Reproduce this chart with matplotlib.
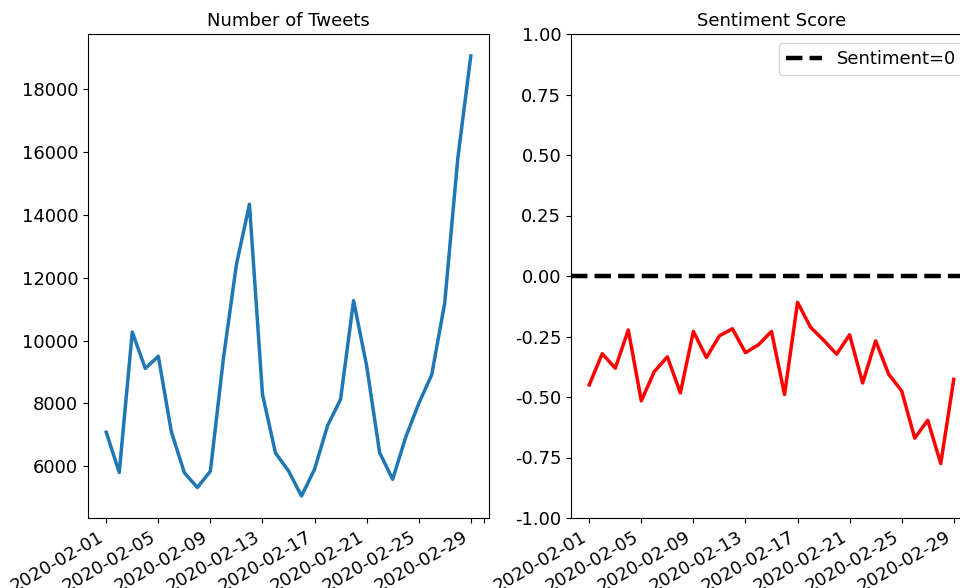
import pandas as pd
import matplotlib
matplotlib.use('Agg')
import matplotlib.pyplot as plt
import matplotlib.dates as mdates
import matplotlib.ticker as mticker

dates = pd.date_range('2020-02-01', '2020-02-29', freq='D')

tweet_counts = [7080, 5800, 10270, 9110, 9500, 7100, 5790, 5320, 5840, 9430,
                12420, 14340, 8290, 6420, 5850, 5050, 5900, 7290, 8130, 11270,
                9200, 6430, 5580, 6920, 7990, 8910, 11200, 15790, 19060]

sentiment = [-0.450, -0.321, -0.381, -0.223, -0.516, -0.395, -0.334, -0.483, -0.229, -0.337,
             -0.247, -0.218, -0.317, -0.284, -0.229, -0.490, -0.109, -0.212, -0.265, -0.323,
             -0.243, -0.442, -0.268, -0.406, -0.475, -0.670, -0.596, -0.775, -0.427]

tick_labels = [d.strftime('%Y-%m-%d') for d in dates[::4]]

fs = 13
plt.rcParams['font.size'] = fs

fig = plt.figure(figsize=(9.6, 5.88), dpi=100)
W, H = 960, 588
ax1 = fig.add_axes([88 / W, (H - 518) / H, 401 / W, 484 / H])
ax2 = fig.add_axes([571 / W, (H - 518) / H, 401 / W, 484 / H])

ax1.plot(dates, tweet_counts, color='tab:blue', linewidth=2.5)
ax1.set_title('Number of Tweets', fontsize=fs)

ax2.plot(dates, sentiment, color='red', linewidth=2.5)
ax2.axhline(0, color='black', linestyle='--', linewidth=3.2, label='Sentiment=0')
ax2.set_ylim(-1, 1)
ax2.yaxis.set_major_locator(mticker.MultipleLocator(0.25))
ax2.yaxis.set_major_formatter(mticker.FormatStrFormatter('%.2f'))
ax2.set_title('Sentiment Score', fontsize=fs)
ax2.legend(loc='upper right', fontsize=fs)

for ax in (ax1, ax2):
    ax.xaxis.set_major_locator(mdates.DayLocator(bymonthday=range(1, 32, 4)))
    ax.xaxis.set_major_formatter(mticker.FixedFormatter(tick_labels))
    ax.tick_params(labelsize=fs)
    for lab in ax.get_xticklabels():
        lab.set_rotation(30)
        lab.set_ha('right')

fig.savefig('out.png', dpi=100)
